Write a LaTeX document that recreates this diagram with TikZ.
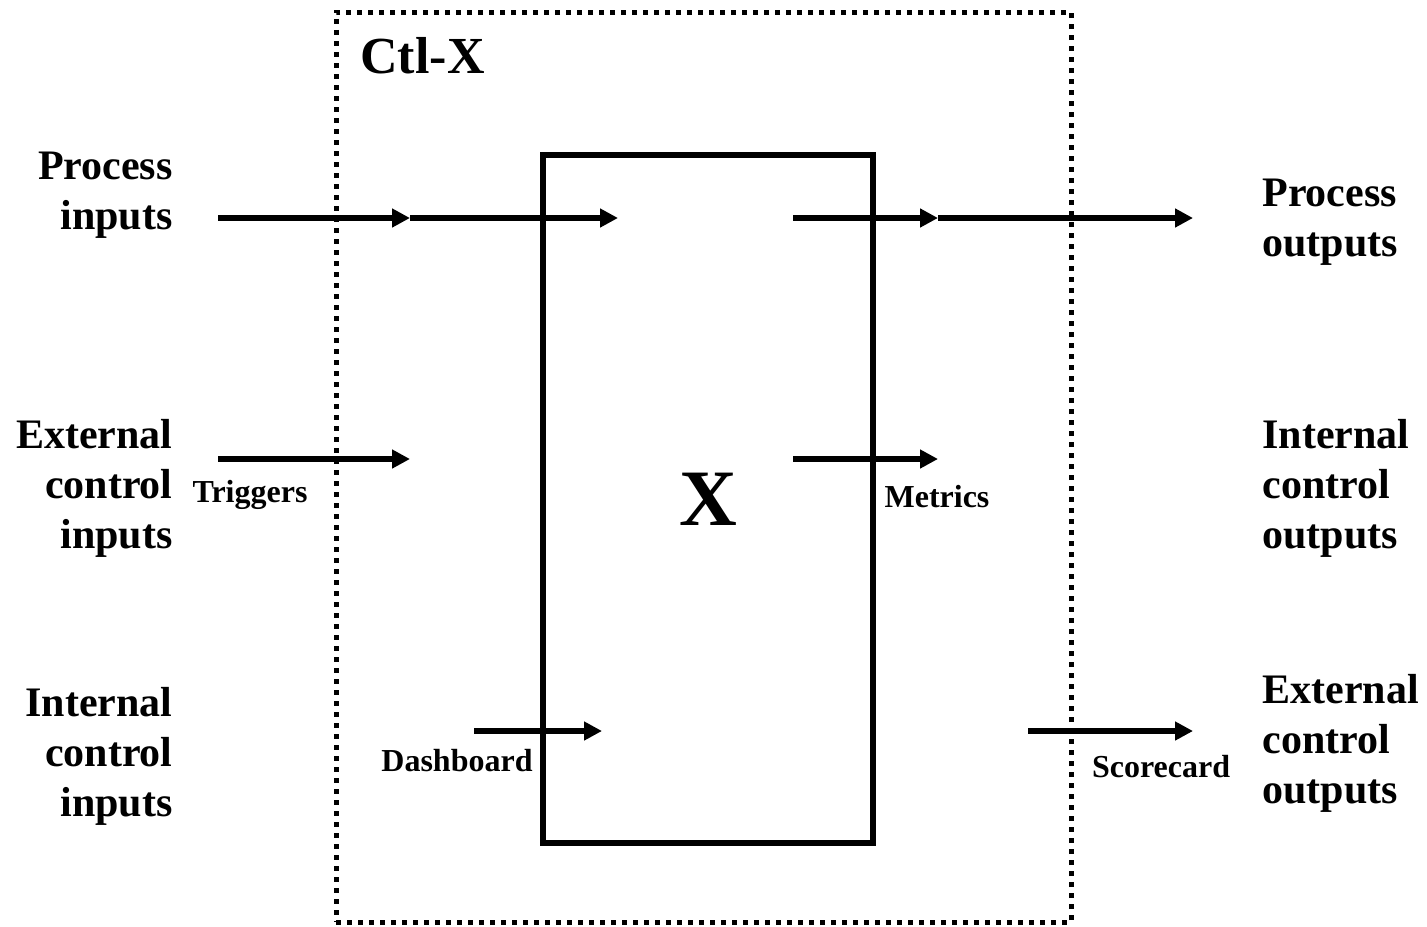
\documentclass[tikz,border=0pt]{standalone}
\usepackage{fontspec}
\setmainfont{Liberation Serif}
\usetikzlibrary{arrows.meta}

\newcommand{\biglbl}{\fontsize{21}{25}\selectfont\bfseries}
\newcommand{\smalllbl}{\fontsize{16}{19}\selectfont\bfseries}

\begin{document}
\begin{tikzpicture}[x=0.5pt, y=-0.5pt,
    flow/.style={line width=2.75pt, -{Triangle[length=9pt,width=9pt]}},
    side/.style={font=\biglbl, inner sep=0pt},
    tag/.style={font=\smalllbl, inner sep=0pt}]
    \useasboundingbox (0,0) rectangle (1427,926);

    % Boxes
    \node[draw, line width=2.5pt, dash pattern=on 2.5pt off 3pt,
          minimum width=367.5pt, minimum height=455pt] (ctlx) at (703.5,467) {};
    \node[anchor=west, inner sep=0pt, font=\fontsize{26}{30}\selectfont\bfseries] (ctlxl) at (360,56) {Ctl-X};
    \node[draw, line width=2.75pt, minimum width=165pt, minimum height=344pt,
          font=\fontsize{40}{44}\selectfont\bfseries] (x) at (708,499) {X};

    % Side labels
    \node[side, anchor=east, align=right] (pin) at (173,195) {Process\\inputs};
    \node[side, anchor=east, align=right] (ein) at (173,488) {External\\control\\inputs};
    \node[side, anchor=east, align=right] (iin) at (173,756) {Internal\\control\\inputs};
    \node[side, anchor=west, align=left] (pout) at (1262,222) {Process\\outputs};
    \node[side, anchor=west, align=left] (iout) at (1262,488) {Internal\\control\\outputs};
    \node[side, anchor=west, align=left] (eout) at (1262,743) {External\\control\\outputs};

    % Connector labels
    \node[tag] (trig) at (250,495) {Triggers};
    \node[tag] (metr) at (937,497) {Metrics};
    \node[tag] (dash) at (457,761) {Dashboard};
    \node[tag] (score) at (1161,767) {Scorecard};

    % End points
    \coordinate (p0) at (218,218);
    \coordinate (p1) at (410,218);
    \coordinate (p2) at (618,218);
    \coordinate (p3) at (793,218);
    \coordinate (p4) at (938,218);
    \coordinate (p5) at (1193,218);
    \coordinate (e0) at (218,459);
    \coordinate (e1) at (410,459);
    \coordinate (m0) at (793,459);
    \coordinate (m1) at (938,459);
    \coordinate (d0) at (474,731);
    \coordinate (d1) at (602,731);
    \coordinate (s0) at (1028,731);
    \coordinate (s1) at (1193,731);

    % Edges
    \draw[flow] (p0) -- (p1);
    \draw[flow] (p1) -- (p2);
    \draw[flow] (p3) -- (p4);
    \draw[flow] (p4) -- (p5);
    \draw[flow] (e0) -- (e1);
    \draw[flow] (m0) -- (m1);
    \draw[flow] (d0) -- (d1);
    \draw[flow] (s0) -- (s1);
\end{tikzpicture}
\end{document}
